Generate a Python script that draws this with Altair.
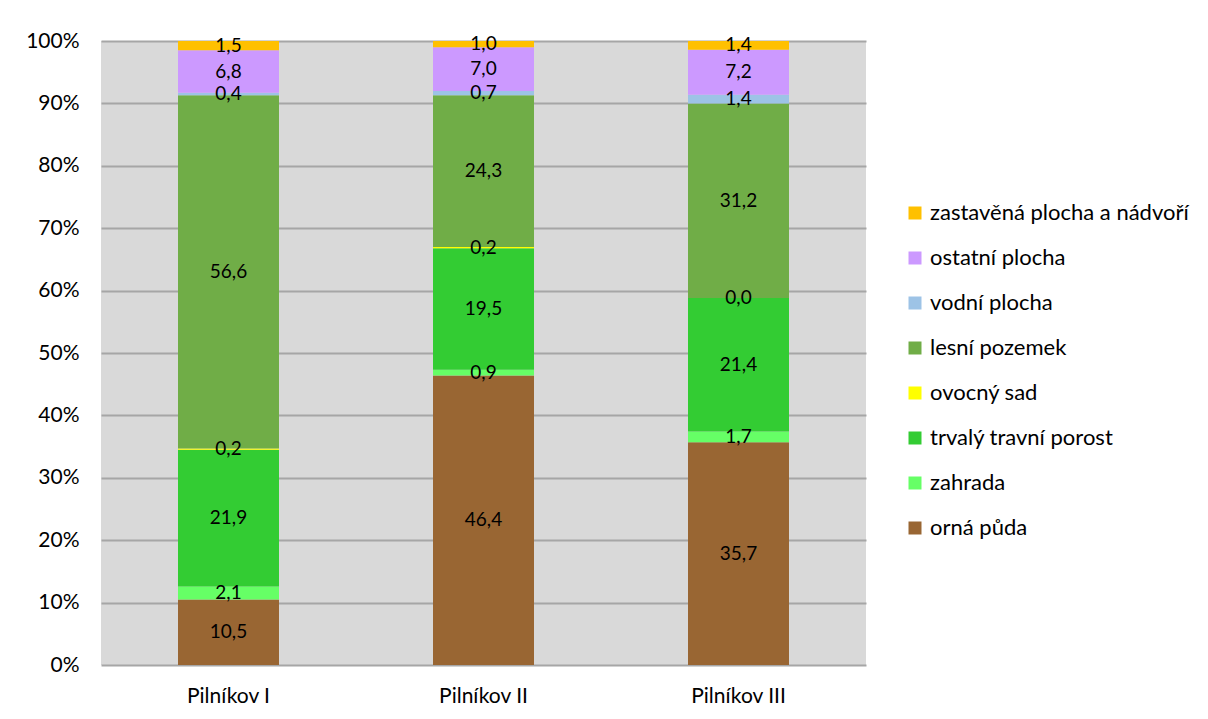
import altair as alt
import pandas as pd

sites = ["Pilníkov I", "Pilníkov II", "Pilníkov III"]
# bottom to top
categories = ["orná půda", "zahrada", "trvalý travní porost", "ovocný sad",
              "lesní pozemek", "vodní plocha", "ostatní plocha",
              "zastavěná plocha a nádvoří"]
colors = ["#996633", "#66FF66", "#33CC33", "#FFFF00",
          "#70AD47", "#9DC3E6", "#CC99FF", "#FFC000"]
v_I = [10.5, 2.1, 21.9, 0.2, 56.6, 0.4, 6.8, 1.5]
v_II = [46.4, 0.9, 19.5, 0.2, 24.3, 0.7, 7.0, 1.0]
v_III = [35.7, 1.7, 21.4, 0.0, 31.2, 1.4, 7.2, 1.4]

rows = []
for s, vals in zip(sites, [v_I, v_II, v_III]):
    for i, (c, v) in enumerate(zip(categories, vals)):
        rows.append({"site": s, "cat": c, "ord": i, "value": v})
df = pd.DataFrame(rows)

FONT = "Lato"

base = alt.Chart(df).transform_stack(
    stack="value", groupby=["site"],
    sort=[alt.SortField("ord", order="ascending")],
    as_=["y0", "y1"]
).transform_calculate(
    ymid="(datum.y0 + datum.y1) / 2",
    lab="replace(format(datum.value, '.1f'), '.', ',')"
)

xenc = alt.X("site:N", sort=sites, title=None,
             axis=alt.Axis(labelAngle=0, domain=False, ticks=False,
                           labelFontSize=21, labelPadding=20,
                           labelColor="#000000", labelFont=FONT))

bars = base.mark_bar(size=101).encode(
    x=xenc,
    y=alt.Y("y0:Q", scale=alt.Scale(domain=[0, 100], nice=False), title=None,
            axis=alt.Axis(values=list(range(0, 101, 10)),
                          labelExpr="datum.value + '%'",
                          domain=False, ticks=False, labelFontSize=21,
                          labelPadding=22, labelColor="#000000",
                          labelFont=FONT, gridColor="#a6a6a6",
                          gridWidth=2)),
    y2="y1:Q",
    color=alt.Color("cat:N", title=None,
                    scale=alt.Scale(domain=categories[::-1], range=colors[::-1]),
                    legend=alt.Legend(orient="none", legendX=803, legendY=161,
                                      symbolType="square", symbolSize=169,
                                      symbolStrokeWidth=0,
                                      labelFontSize=22, labelFont=FONT,
                                      labelColor="#000000", rowPadding=23,
                                      labelLimit=400)),
)

texts = base.mark_text(fontSize=19, font=FONT, color="#000000").encode(
    x=alt.X("site:N", sort=sites),
    y=alt.Y("ymid:Q"),
    text="lab:N",
)

chart = alt.layer(bars, texts).properties(
    width=765, height=624,
    padding={"left": 17, "top": 22, "right": 5, "bottom": 5},
).configure_view(fill="#d9d9d9", stroke=None)

chart.save("out.html", embed_options={"renderer": "svg", "actions": False})
